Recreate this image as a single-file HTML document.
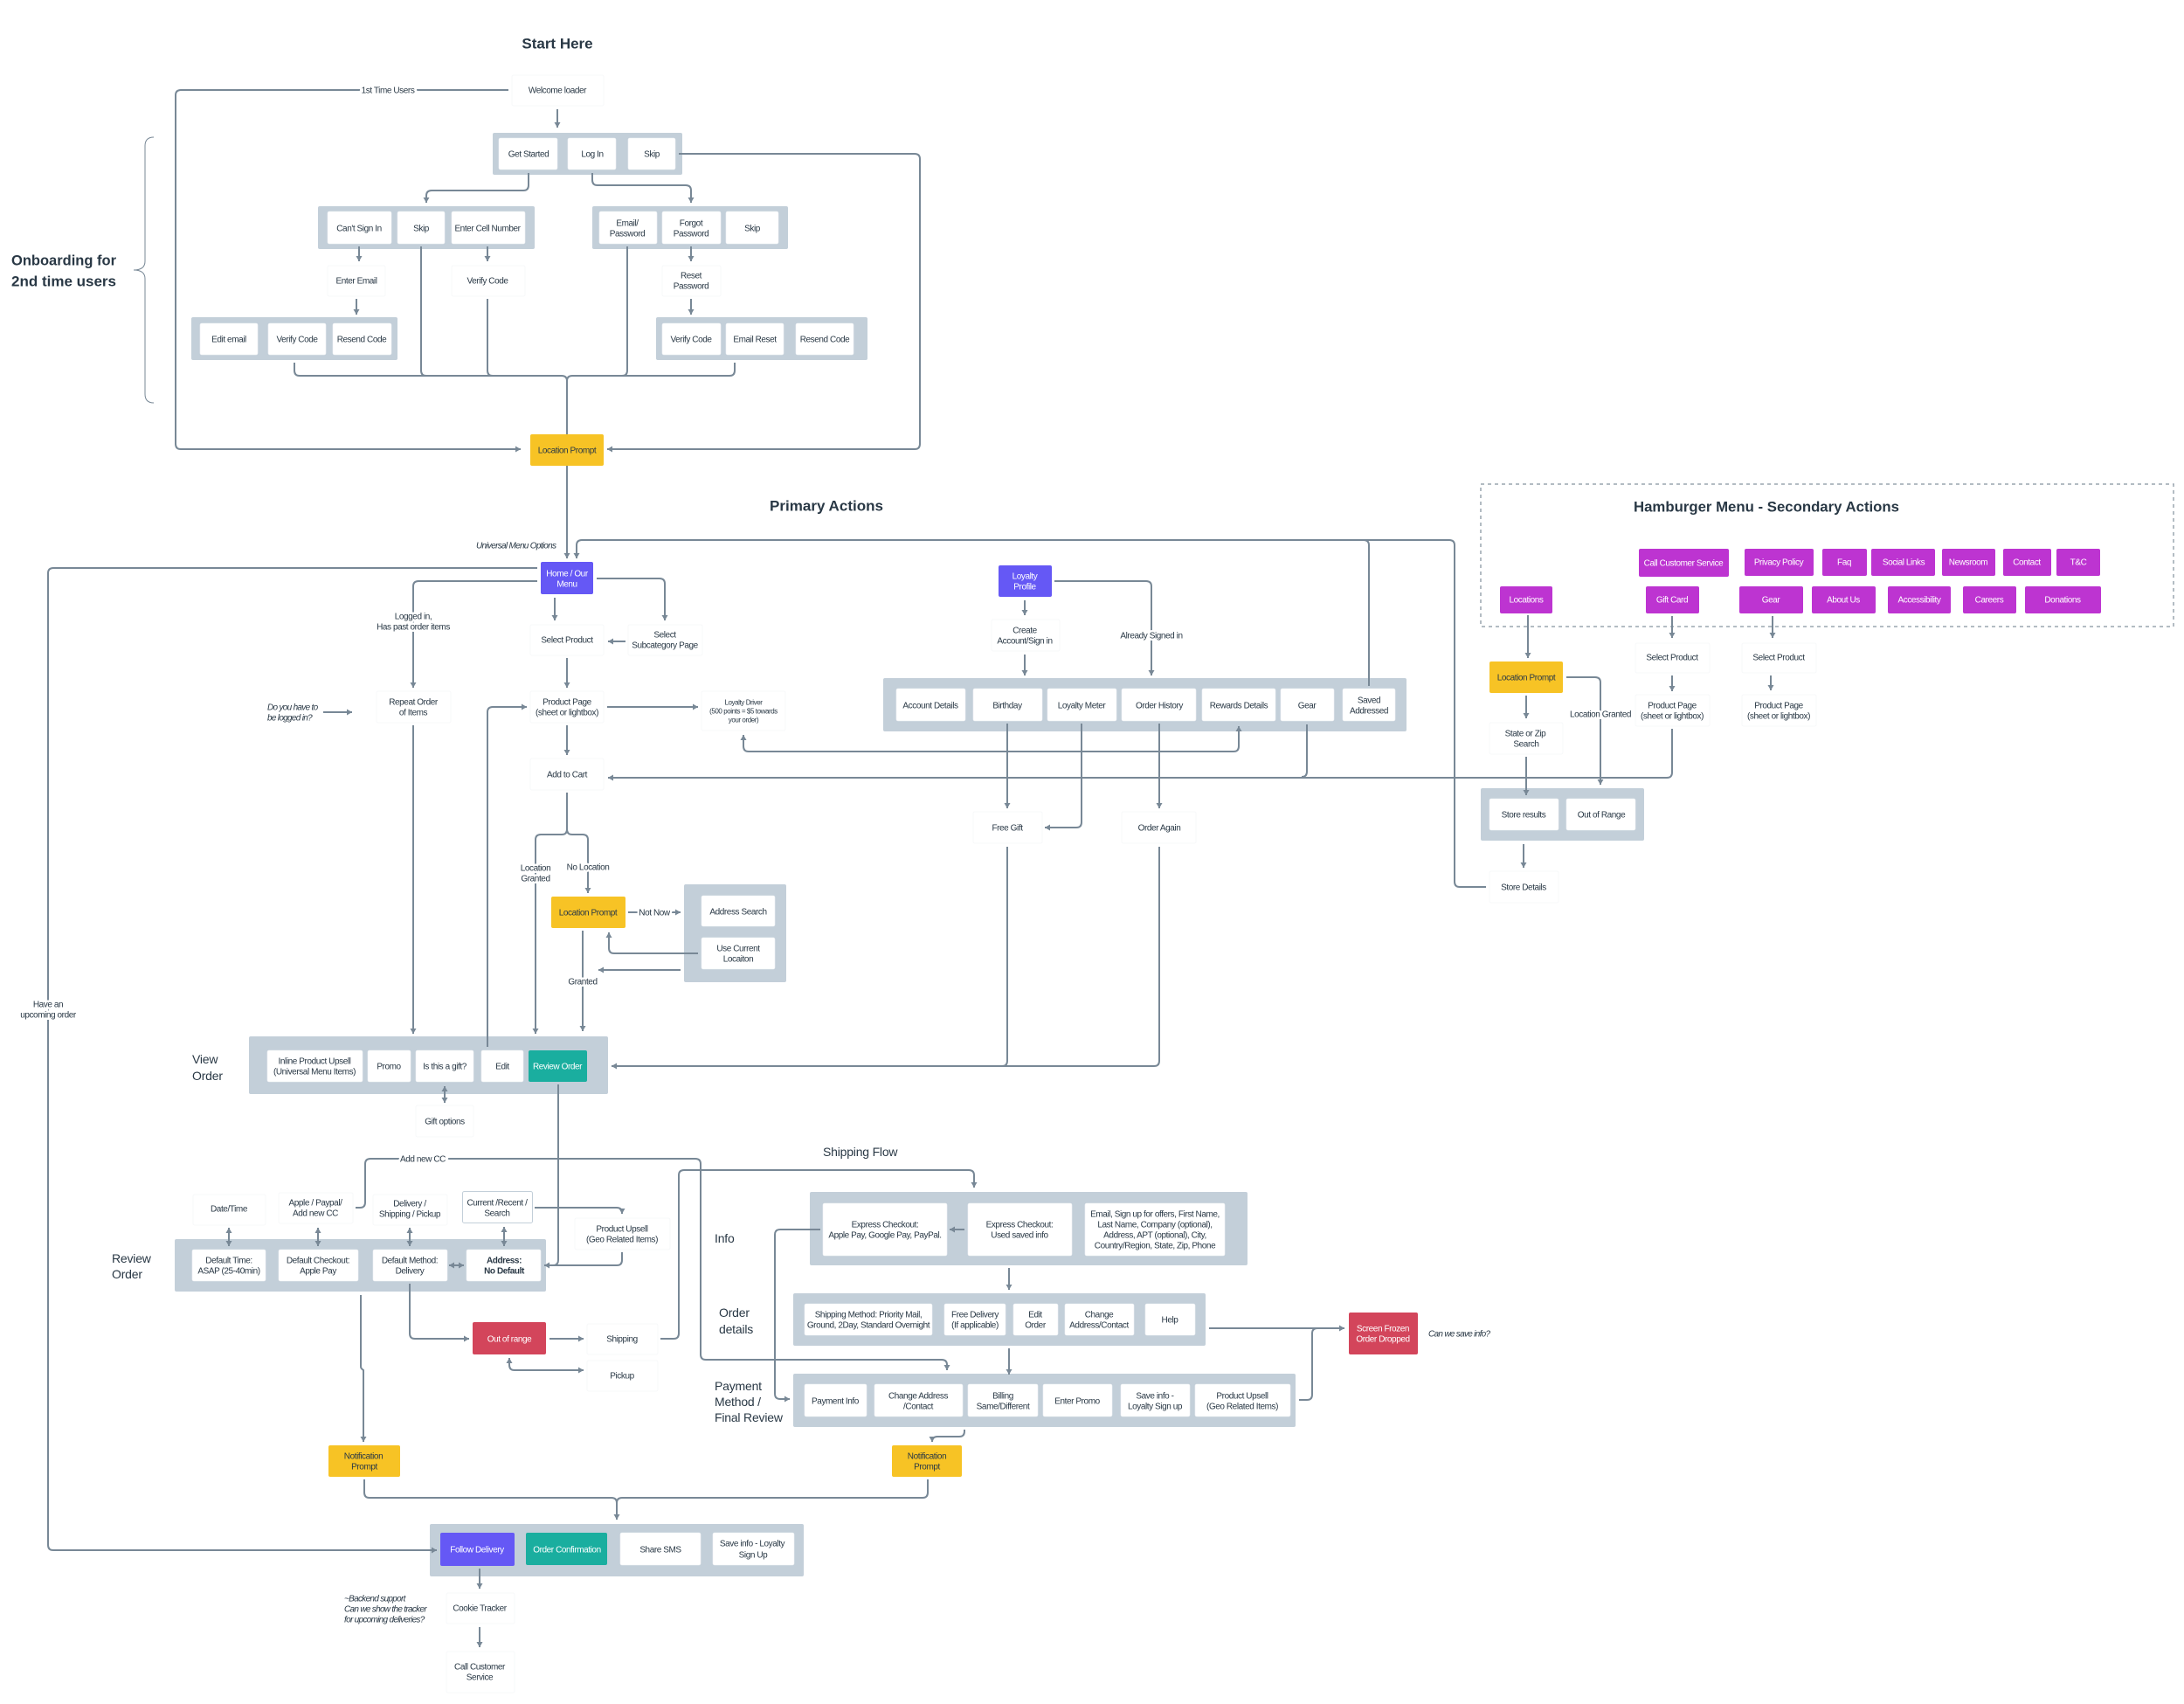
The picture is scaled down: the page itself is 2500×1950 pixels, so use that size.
<!DOCTYPE html>
<html><head><meta charset="utf-8"><title>User flow</title>
<style>
html,body{margin:0;padding:0;background:#fff}
svg{display:block}
rect{rx:2px}
text{font-family:"Liberation Sans",sans-serif;font-size:10px;fill:#293845;text-anchor:middle;dominant-baseline:central;letter-spacing:-.42px;transform:translateY(.8px)}
.t{font-size:17px;font-weight:700;letter-spacing:0}
.h{font-size:14px;text-anchor:start;letter-spacing:-.2px}
.i{font-style:italic;text-anchor:start;letter-spacing:-.7px}
.wt{fill:#fff}
.lb{paint-order:stroke;stroke:#fff;stroke-width:5px}
.c{fill:#c3cfd9}
.w{fill:#fff;stroke:#eef1f4;stroke-width:.6}
.n{fill:#fff;stroke:#f7f8f9;stroke-width:1}
path.l{fill:none;stroke:#788896;stroke-width:2}
path.a{fill:none;stroke:#788896;stroke-width:2;marker-end:url(#m)}
path.d{fill:none;stroke:#788896;stroke-width:2;marker-end:url(#m);marker-start:url(#m)}
</style></head><body>
<svg width="2500" height="1950" viewBox="0 0 2500 1950" xmlns="http://www.w3.org/2000/svg">
<defs><marker id="m" markerUnits="userSpaceOnUse" markerWidth="8" markerHeight="8" refX="7" refY="4" orient="auto-start-reverse"><path d="M1 0.5L7 4L1 7.5z" fill="#788896"/></marker></defs>
<rect width="2500" height="1950" fill="#fff" style="rx:0"/>

<!-- dashed -->
<rect x="1695" y="554" width="793" height="163" fill="none" stroke="#9aa5af" stroke-width="1.5" stroke-dasharray="4 4" style="rx:0"/>

<!-- containers -->
<g class="c">
<rect class="c" x="564" y="152" width="217" height="48"/>
<rect class="c" x="364" y="236" width="248" height="49"/>
<rect class="c" x="678" y="236" width="224" height="49"/>
<rect class="c" x="219" y="363" width="236" height="49"/>
<rect class="c" x="751" y="363" width="242" height="49"/>
<rect class="c" x="783" y="1012" width="117" height="112"/>
<rect class="c" x="285" y="1186" width="411" height="66"/>
<rect class="c" x="1011" y="776" width="599" height="61"/>
<rect class="c" x="1695" y="902" width="187" height="60"/>
<rect class="c" x="200" y="1418" width="425" height="60"/>
<rect class="c" x="927" y="1364" width="501" height="84"/>
<rect class="c" x="908" y="1480" width="472" height="60"/>
<rect class="c" x="908" y="1572" width="575" height="61"/>
<rect class="c" x="492" y="1744" width="428" height="60"/>
</g>

<!-- white boxes in containers -->
<rect class="w" x="571" y="158" width="67" height="36"/><rect class="w" x="650" y="158" width="55" height="36"/><rect class="w" x="719" y="158" width="54" height="36"/>
<rect class="w" x="375" y="242" width="73" height="37"/><rect class="w" x="455" y="242" width="54" height="37"/><rect class="w" x="517" y="242" width="84" height="37"/>
<rect class="w" x="686" y="242" width="66" height="37"/><rect class="w" x="758" y="242" width="67" height="37"/><rect class="w" x="831" y="242" width="60" height="37"/>
<rect class="w" x="229" y="370" width="66" height="36"/><rect class="w" x="307" y="370" width="66" height="36"/><rect class="w" x="381" y="370" width="67" height="36"/>
<rect class="w" x="758" y="370" width="67" height="36"/><rect class="w" x="831" y="370" width="66" height="36"/><rect class="w" x="911" y="370" width="66" height="36"/>
<rect class="w" x="803" y="1025" width="84" height="35"/><rect class="w" x="803" y="1073" width="84" height="36"/>
<rect class="w" x="306" y="1202" width="109" height="36"/><rect class="w" x="421" y="1202" width="49" height="36"/><rect class="w" x="476" y="1202" width="66" height="36"/><rect class="w" x="551" y="1202" width="48" height="36"/>
<rect x="605" y="1202" width="67" height="36" fill="#1aae9f"/>
<rect class="w" x="1026" y="788" width="79" height="37"/><rect class="w" x="1114" y="788" width="79" height="37"/><rect class="w" x="1199" y="788" width="79" height="37"/><rect class="w" x="1284" y="788" width="85" height="37"/><rect class="w" x="1376" y="788" width="84" height="37"/><rect class="w" x="1466" y="788" width="61" height="37"/><rect class="w" x="1537" y="788" width="60" height="37"/>
<rect class="w" x="1705" y="914" width="79" height="36"/><rect class="w" x="1793" y="914" width="79" height="36"/>
<rect class="w" x="220" y="1430" width="84" height="36"/><rect class="w" x="319" y="1430" width="91" height="36"/><rect class="w" x="427" y="1430" width="85" height="36"/><rect class="w" x="534" y="1430" width="85" height="36"/>
<rect class="w" x="942" y="1377" width="142" height="60"/><rect class="w" x="1108" y="1377" width="119" height="60"/><rect class="w" x="1242" y="1377" width="160" height="60"/>
<rect class="w" x="921" y="1492" width="146" height="36"/><rect class="w" x="1081" y="1492" width="70" height="36"/><rect class="w" x="1160" y="1492" width="51" height="36"/><rect class="w" x="1219" y="1492" width="79" height="36"/><rect class="w" x="1311" y="1492" width="57" height="36"/>
<rect class="w" x="921" y="1584" width="71" height="37"/><rect class="w" x="1001" y="1584" width="101" height="37"/><rect class="w" x="1108" y="1584" width="80" height="37"/><rect class="w" x="1194" y="1584" width="79" height="37"/><rect class="w" x="1283" y="1584" width="79" height="37"/><rect class="w" x="1368" y="1584" width="109" height="37"/>
<rect x="504" y="1754" width="85" height="38" fill="#6558f5"/><rect x="602" y="1754" width="93" height="37" fill="#1aae9f"/><rect class="w" x="710" y="1754" width="92" height="37"/><rect class="w" x="816" y="1754" width="93" height="37"/>

<!-- free standing nodes -->
<rect class="n" x="586" y="86" width="105" height="35"/>
<rect class="n" x="375" y="304" width="66" height="35"/><rect class="n" x="517" y="304" width="84" height="35"/><rect class="n" x="758" y="304" width="67" height="35"/>
<rect class="n" x="607" y="715" width="84" height="35"/><rect class="n" x="719" y="715" width="85" height="35"/>
<rect class="n" x="431" y="791" width="85" height="36"/><rect class="n" x="607" y="791" width="84" height="36"/><rect class="n" x="803" y="791" width="96" height="45"/>
<rect class="n" x="607" y="868" width="84" height="36"/>
<rect class="n" x="1135" y="709" width="78" height="36"/><rect class="n" x="1114" y="929" width="79" height="36"/><rect class="n" x="1284" y="929" width="85" height="36"/>
<rect class="n" x="1705" y="827" width="84" height="36"/><rect class="n" x="1705" y="997" width="79" height="36"/>
<rect class="n" x="1872" y="736" width="85" height="34"/><rect class="n" x="1994" y="736" width="85" height="34"/><rect class="n" x="1872" y="795" width="85" height="36"/><rect class="n" x="1994" y="795" width="85" height="36"/>
<rect class="n" x="476" y="1265" width="66" height="36"/>
<rect class="n" x="221" y="1367" width="83" height="35"/><rect class="n" x="319" y="1365" width="85" height="35"/><rect class="n" x="427" y="1367" width="85" height="35"/>
<rect x="529.5" y="1363.5" width="80" height="36" fill="#fff" stroke="#c3cfd9" stroke-width="1"/>
<rect class="n" x="658" y="1394" width="109" height="36"/><rect class="n" x="672" y="1515" width="81" height="35"/><rect class="n" x="672" y="1557" width="81" height="35"/>
<rect class="n" x="511" y="1823" width="78" height="35"/><rect class="n" x="511" y="1890" width="78" height="47"/>

<!-- coloured nodes -->
<rect x="607" y="497" width="84" height="36" fill="#f7c325"/>
<rect x="619" y="643" width="60" height="37" fill="#6558f5"/>
<rect x="1143" y="647" width="61" height="36" fill="#6558f5"/>
<rect x="631" y="1026" width="85" height="36" fill="#f7c325"/>
<rect x="1705" y="757" width="84" height="36" fill="#f7c325"/>
<rect x="541" y="1513" width="84" height="37" fill="#d3455b"/>
<rect x="1544" y="1502" width="79" height="48" fill="#d3455b"/>
<rect x="376" y="1654" width="82" height="36" fill="#f7c325"/><rect x="1021" y="1654" width="80" height="36" fill="#f7c325"/>
<g fill="#bd34d1">
<rect x="1876" y="628" width="103" height="32"/><rect x="1997" y="628" width="79" height="31"/><rect x="2086" y="628" width="51" height="31"/><rect x="2142" y="628" width="73" height="31"/><rect x="2223" y="628" width="61" height="31"/><rect x="2293" y="628" width="55" height="31"/><rect x="2354" y="628" width="50" height="31"/>
<rect x="1717" y="671" width="60" height="31"/><rect x="1884" y="671" width="61" height="31"/><rect x="1991" y="671" width="73" height="31"/><rect x="2074" y="671" width="73" height="31"/><rect x="2161" y="671" width="72" height="31"/><rect x="2247" y="671" width="61" height="31"/><rect x="2318" y="671" width="87" height="31"/>
</g>

<!-- brace -->
<path d="M176 157Q166 157 166 167V299Q166 309 153 309Q166 309 166 319V451Q166 461 176 461" fill="none" stroke="#788896" stroke-width="1"/>

<!-- connectors -->
<path class="a" d="M638 125V146"/>
<path class="a" d="M582 103H207Q201 103 201 109V508Q201 514 207 514H596"/>
<path class="a" d="M777 176H1047Q1053 176 1053 182V508Q1053 514 1047 514H695"/>
<path class="a" d="M605 198V212Q605 218 599 218H494Q488 218 488 224V232"/>
<path class="a" d="M678 198V206Q678 212 684 212H785Q791 212 791 218V232"/>
<path class="a" d="M411 282V299"/><path class="a" d="M558 282V299"/><path class="a" d="M791 282V299"/>
<path class="a" d="M408 342V360"/><path class="a" d="M791 342V360"/>
<path class="l" d="M337 415V424Q337 430 343 430H643Q649 430 649 436"/>
<path class="l" d="M841 415V424Q841 430 835 430H655Q649 430 649 436V497"/>
<path class="l" d="M482 282V424Q482 430 488 430"/>
<path class="l" d="M558 342V424Q558 430 564 430"/>
<path class="l" d="M718 282V424Q718 430 712 430"/>
<path class="a" d="M649 533V639"/>
<path class="a" d="M1567 785V624Q1567 618 1561 618H666Q660 618 660 624V639"/>
<path class="l" d="M1701 1015H1671Q1665 1015 1665 1009V624Q1665 618 1659 618H1560"/>
<path class="a" d="M615 650H61Q55 650 55 656V1768Q55 1774 61 1774H500"/>
<path class="a" d="M615 665H479Q473 665 473 671V787"/>
<path class="a" d="M683 662H755Q761 662 761 668V710"/>
<path class="a" d="M635 684V710"/>
<path class="a" d="M716 734H696"/>
<path class="a" d="M649 753V787"/>
<path class="a" d="M370 815H403"/>
<path class="a" d="M695 809H799"/>
<path class="d" d="M1418 831V854Q1418 860 1412 860H857Q851 860 851 854V841"/>
<path class="a" d="M558 1198V815Q558 809 564 809H603"/>
<path class="a" d="M473 830V1183"/>
<path class="a" d="M649 830V864"/>
<path class="a" d="M1914 834V884Q1914 890 1908 890H696"/>
<path class="l" d="M1496 829V883Q1496 889 1490 889"/>
<path class="l" d="M649 907V949Q649 955 643 955H619Q613 955 613 961"/>
<path class="a" d="M613 961V1183"/>
<path class="a" d="M649 949Q649 955 655 955H667Q673 955 673 961V1022"/>
<path class="a" d="M719 1044H779"/>
<path class="a" d="M799 1091H703Q697 1091 697 1085V1067"/>
<path class="a" d="M779 1110H685"/>
<path class="a" d="M667 1065V1180"/>
<path class="a" d="M1153 969V1214Q1153 1220 1147 1220H700"/>
<path class="l" d="M1327 969V1214Q1327 1220 1321 1220H1140"/>
<path class="d" d="M509 1243V1262"/>
<path class="a" d="M1173 687V704"/><path class="a" d="M1173 749V773"/>
<path class="a" d="M1207 665H1312Q1318 665 1318 671V773"/>
<path class="a" d="M1153 828V925"/><path class="a" d="M1327 828V925"/>
<path class="a" d="M1238 828V941Q1238 947 1232 947H1196"/>
<path class="a" d="M1749 704V753"/>
<path class="a" d="M1793 775H1826Q1832 775 1832 781V898"/>
<path class="a" d="M1747 796V822"/><path class="a" d="M1747 866V910"/><path class="a" d="M1744 966V993"/>
<path class="a" d="M1914 705V730"/><path class="a" d="M2029 705V730"/><path class="a" d="M1914 773V791"/><path class="a" d="M2027 773V790"/>
<path class="l" d="M639 1241V1442Q639 1448 633 1448H623"/>
<path class="d" d="M262 1405V1426"/><path class="d" d="M364 1405V1426"/><path class="d" d="M469 1405V1426"/><path class="d" d="M577 1404V1426"/><path class="d" d="M514 1448H531"/>
<path class="a" d="M407 1382H412Q418 1382 418 1376V1332Q418 1326 424 1326H796Q802 1326 802 1332V1550Q802 1556 808 1556H1078Q1084 1556 1084 1562V1568"/>
<path class="a" d="M612 1382H706Q712 1382 712 1388V1389"/>
<path class="a" d="M712 1433V1442Q712 1448 706 1448H623"/>
<path class="a" d="M469 1469V1526Q469 1532 475 1532H537"/>
<path class="a" d="M629 1532H668"/>
<path class="d" d="M668 1568H589Q583 1568 583 1562V1554"/>
<path class="a" d="M756 1532H771Q777 1532 777 1526V1345Q777 1339 783 1339H1109Q1115 1339 1115 1345V1359"/>
<path class="a" d="M413 1482V1564Q413 1566 416 1568V1650"/>
<path class="a" d="M1104 1407H1087"/>
<path class="a" d="M939 1407H893Q887 1407 887 1413V1595Q887 1601 893 1601H904"/>
<path class="a" d="M1155 1451V1476"/><path class="a" d="M1155 1543V1573"/>
<path class="a" d="M1384 1520H1539"/>
<path class="l" d="M1487 1602H1496Q1502 1602 1502 1596V1526Q1502 1520 1508 1520"/>
<path class="a" d="M1104 1636V1638Q1104 1644 1098 1644H1073Q1067 1644 1067 1650"/>
<path class="l" d="M417 1693V1708Q417 1714 423 1714H700Q706 1714 706 1720"/>
<path class="l" d="M1062 1693V1708Q1062 1714 1056 1714H712Q706 1714 706 1720"/>
<path class="a" d="M706 1720V1739"/>
<path class="a" d="M549 1795V1818"/><path class="a" d="M549 1862V1885"/>

<!-- titles -->
<text class="t" x="638" y="49">Start Here</text>
<text class="t" x="946" y="578" textLength="130" lengthAdjust="spacingAndGlyphs">Primary Actions</text>
<text class="t" x="2022" y="579" textLength="304" lengthAdjust="spacingAndGlyphs">Hamburger Menu - Secondary Actions</text>
<text class="t" x="13" y="297" style="text-anchor:start" textLength="120" lengthAdjust="spacingAndGlyphs">Onboarding for</text>
<text class="t" x="13" y="321" style="text-anchor:start" textLength="120" lengthAdjust="spacingAndGlyphs">2nd time users</text>
<text class="h" x="220" y="1211">View</text><text class="h" x="220" y="1230">Order</text>
<text class="h" x="128" y="1439">Review</text><text class="h" x="128" y="1457">Order</text>
<text class="h" x="942" y="1317">Shipping Flow</text>
<text class="h" x="818" y="1416">Info</text>
<text class="h" x="823" y="1501">Order</text><text class="h" x="823" y="1520">details</text>
<text class="h" x="818" y="1585">Payment</text><text class="h" x="818" y="1603">Method /</text><text class="h" x="818" y="1621">Final Review</text>

<!-- labels -->
<text x="638" y="103">Welcome loader</text>
<text class="lb" x="444" y="103">1st Time Users</text>
<text x="605" y="176">Get Started</text><text x="678" y="176">Log In</text><text x="746" y="176">Skip</text>
<text x="411" y="261">Can't Sign In</text><text x="482" y="261">Skip</text><text x="558" y="261">Enter Cell Number</text>
<text x="718" y="255">Email/</text><text x="718" y="267">Password</text>
<text x="791" y="255">Forgot</text><text x="791" y="267">Password</text><text x="861" y="261">Skip</text>
<text x="408" y="321">Enter Email</text><text x="558" y="321">Verify Code</text>
<text x="791" y="315">Reset</text><text x="791" y="327">Password</text>
<text x="262" y="388">Edit email</text><text x="340" y="388">Verify Code</text><text x="414" y="388">Resend Code</text>
<text x="791" y="388">Verify Code</text><text x="864" y="388">Email Reset</text><text x="944" y="388">Resend Code</text>
<text x="649" y="515">Location Prompt</text>
<text class="i" x="545" y="624">Universal Menu Options</text>
<text class="wt" x="649" y="656">Home / Our</text><text class="wt" x="649" y="668">Menu</text>
<text class="lb" x="473" y="705">Logged in,</text><text class="lb" x="473" y="717">Has past order items</text>
<text x="649" y="732">Select Product</text>
<text x="761" y="726">Select</text><text x="761" y="738">Subcategory Page</text>
<text class="i" x="306" y="809">Do you have to</text><text class="i" x="306" y="821">be logged in?</text>
<text x="473" y="803">Repeat Order</text><text x="473" y="815">of Items</text>
<text x="649" y="803">Product Page</text><text x="649" y="815">(sheet or lightbox)</text>
<text x="851" y="803" style="font-size:8px">Loyalty Driver</text><text x="851" y="813" style="font-size:8px">(500 points = $5 towards</text><text x="851" y="823" style="font-size:8px">your order)</text>
<text x="649" y="886">Add to Cart</text>
<text class="lb" x="613" y="993">Location</text><text class="lb" x="613" y="1005">Granted</text>
<text class="lb" x="673" y="992">No Location</text>
<text x="673" y="1044">Location Prompt</text>
<text class="lb" x="749" y="1044">Not Now</text>
<text x="845" y="1043">Address Search</text>
<text x="845" y="1085">Use Current</text><text x="845" y="1097">Locaiton</text>
<text class="lb" x="667" y="1123">Granted</text>
<text class="lb" x="55" y="1149">Have an</text><text class="lb" x="55" y="1161">upcoming order</text>
<text x="360" y="1214">Inline Product Upsell</text><text x="360" y="1226">(Universal Menu Items)</text>
<text x="445" y="1220">Promo</text><text x="509" y="1220">Is this a gift?</text><text x="575" y="1220">Edit</text>
<text class="wt" x="638" y="1220">Review Order</text>
<text x="509" y="1283">Gift options</text>
<text class="wt" x="1173" y="659">Loyalty</text><text class="wt" x="1173" y="671">Profile</text>
<text x="1173" y="721">Create</text><text x="1173" y="733">Account/Sign in</text>
<text class="lb" x="1318" y="727">Already Signed in</text>
<text x="1065" y="807">Account Details</text><text x="1153" y="807">Birthday</text><text x="1238" y="807">Loyalty Meter</text><text x="1327" y="807">Order History</text><text x="1418" y="807">Rewards Details</text><text x="1496" y="807">Gear</text>
<text x="1567" y="801">Saved</text><text x="1567" y="813">Addressed</text>
<text x="1153" y="947">Free Gift</text><text x="1327" y="947">Order Again</text>
<text class="wt" x="1927" y="644">Call  Customer Service</text><text class="wt" x="2036" y="643">Privacy Policy</text><text class="wt" x="2111" y="643">Faq</text><text class="wt" x="2179" y="643">Social Links</text><text class="wt" x="2253" y="643">Newsroom</text><text class="wt" x="2320" y="643">Contact</text><text class="wt" x="2379" y="643">T&amp;C</text>
<text class="wt" x="1747" y="686">Locations</text><text class="wt" x="1914" y="686">Gift Card</text><text class="wt" x="2027" y="686">Gear</text><text class="wt" x="2110" y="686">About Us</text><text class="wt" x="2197" y="686">Accessibility</text><text class="wt" x="2277" y="686">Careers</text><text class="wt" x="2361" y="686">Donations</text>
<text x="1747" y="775">Location Prompt</text>
<text class="lb" x="1832" y="817">Location Granted</text>
<text x="1746" y="839">State or Zip</text><text x="1747" y="851">Search</text>
<text x="1744" y="932">Store results</text><text x="1833" y="932">Out of Range</text>
<text x="1744" y="1015">Store Details</text>
<text x="1914" y="752">Select Product</text><text x="2036" y="752">Select Product</text>
<text x="1914" y="807">Product Page</text><text x="1914" y="819">(sheet or lightbox)</text>
<text x="2036" y="807">Product Page</text><text x="2036" y="819">(sheet or lightbox)</text>
<text x="262" y="1383">Date/Time</text>
<text x="361" y="1376">Apple / Paypal/</text><text x="361" y="1388">Add new CC</text>
<text x="469" y="1377">Delivery /</text><text x="469" y="1389">Shipping / Pickup</text>
<text x="569" y="1376">Current /Recent /</text><text x="569" y="1388">Search</text>
<text class="lb" x="484" y="1326">Add new CC</text>
<text x="712" y="1406">Product Upsell</text><text x="712" y="1418">(Geo Related Items)</text>
<text x="262" y="1442">Default Time:</text><text x="262" y="1454">ASAP (25-40min)</text>
<text x="364" y="1442">Default Checkout:</text><text x="364" y="1454">Apple Pay</text>
<text x="469" y="1442">Default Method:</text><text x="469" y="1454">Delivery</text>
<text x="577" y="1442" style="font-weight:700">Address:</text><text x="577" y="1454" style="font-weight:700">No Default</text>
<text class="wt" x="583" y="1532">Out of range</text>
<text x="712" y="1532">Shipping</text><text x="712" y="1574">Pickup</text>
<text x="1013" y="1401">Express Checkout:</text><text x="1013" y="1413">Apple Pay, Google Pay, PayPal.</text>
<text x="1167" y="1401">Express Checkout:</text><text x="1167" y="1413">Used saved info</text>
<text x="1322" y="1389">Email, Sign up for offers, First Name,</text><text x="1322" y="1401">Last Name, Company (optional),</text><text x="1322" y="1413">Address, APT (optional), City,</text><text x="1322" y="1425">Country/Region, State, Zip, Phone</text>
<text x="994" y="1504">Shipping Method: Priority Mail,</text><text x="994" y="1516">Ground, 2Day, Standard Overnight</text>
<text x="1116" y="1504">Free Delivery</text><text x="1116" y="1516">(If applicable)</text>
<text x="1185" y="1504">Edit</text><text x="1185" y="1516">Order</text>
<text x="1258" y="1504">Change</text><text x="1258" y="1516">Address/Contact</text>
<text x="1339" y="1510">Help</text>
<text class="wt" x="1583" y="1520">Screen Frozen</text><text class="wt" x="1583" y="1532">Order Dropped</text>
<text class="i" x="1635" y="1526">Can we save info?</text>
<text x="956" y="1603">Payment Info</text>
<text x="1051" y="1597">Change Address</text><text x="1051" y="1609">/Contact</text>
<text x="1148" y="1597">Billing</text><text x="1148" y="1609">Same/Different</text>
<text x="1233" y="1603">Enter Promo</text>
<text x="1322" y="1597">Save info -</text><text x="1322" y="1609">Loyalty Sign up</text>
<text x="1422" y="1597">Product Upsell</text><text x="1422" y="1609">(Geo Related Items)</text>
<text x="416" y="1666">Notification</text><text x="417" y="1678">Prompt</text>
<text x="1061" y="1666">Notification</text><text x="1061" y="1678">Prompt</text>
<text class="wt" x="546" y="1773">Follow Delivery</text><text class="wt" x="649" y="1773">Order Confirmation</text>
<text x="756" y="1773">Share SMS</text>
<text x="861" y="1766">Save info - Loyalty</text><text x="862" y="1779">Sign Up</text>
<text class="i" x="394" y="1829">~Backend support</text><text class="i" x="394" y="1841">Can we show the tracker</text><text class="i" x="394" y="1853">for upcoming deliveries?</text>
<text x="549" y="1840">Cookie Tracker</text>
<text x="549" y="1907">Call Customer</text><text x="549" y="1919">Service</text>
</svg>
</body></html>
